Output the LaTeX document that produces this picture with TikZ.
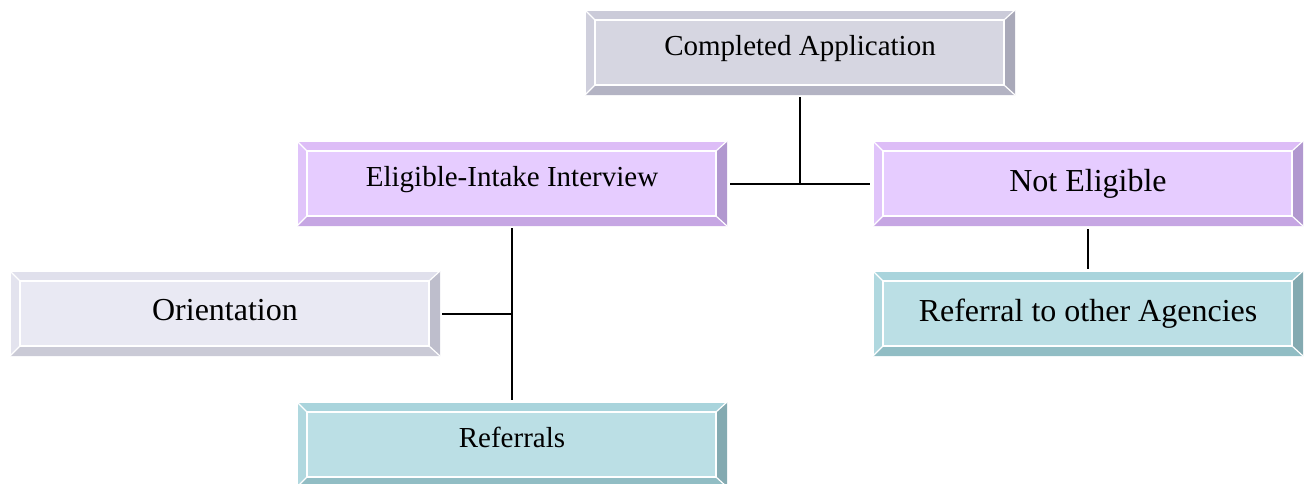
\documentclass[tikz,border=0pt]{standalone}
\usepackage{fontspec}
\setmainfont{Liberation Serif}
\definecolor{gFace}{HTML}{D6D6E1}\definecolor{gTop}{HTML}{CBCBD9}\definecolor{gLeft}{HTML}{CFCFDC}\definecolor{gRight}{HTML}{A9A9B9}\definecolor{gBot}{HTML}{B3B3C3}
\definecolor{pFace}{HTML}{E6CCFF}\definecolor{pTop}{HTML}{DDBDF7}\definecolor{pLeft}{HTML}{E0C4FA}\definecolor{pRight}{HTML}{B198CF}\definecolor{pBot}{HTML}{C6A6E3}
\definecolor{lFace}{HTML}{E9E9F3}\definecolor{lTop}{HTML}{E0E0EC}\definecolor{lLeft}{HTML}{E3E3EE}\definecolor{lRight}{HTML}{BEBECC}\definecolor{lBot}{HTML}{CACAD6}
\definecolor{tFace}{HTML}{BBDFE5}\definecolor{tTop}{HTML}{A9D4DC}\definecolor{tLeft}{HTML}{B0D8DF}\definecolor{tRight}{HTML}{84AAB1}\definecolor{tBot}{HTML}{91BDC4}
\newcommand\bvfam{g}
\tikzset{
  bevelbox/.style={rectangle, minimum width=430pt, minimum height=85pt, inner sep=0pt, fill=\bvfam Face,
    path picture={
      \coordinate (bnw) at (path picture bounding box.north west);
      \coordinate (bne) at (path picture bounding box.north east);
      \coordinate (bsw) at (path picture bounding box.south west);
      \coordinate (bse) at (path picture bounding box.south east);
      \coordinate (inw) at ([xshift=10pt,yshift=-10pt]bnw);
      \coordinate (ine) at ([xshift=-11pt,yshift=-10pt]bne);
      \coordinate (isw) at ([xshift=10pt,yshift=10pt]bsw);
      \coordinate (ise) at ([xshift=-11pt,yshift=10pt]bse);
      \fill[\bvfam Top] (bnw) -- (bne) -- (ine) -- (inw) -- cycle;
      \fill[\bvfam Left] (bnw) -- (inw) -- (isw) -- (bsw) -- cycle;
      \fill[\bvfam Right] (bne) -- (bse) -- (ise) -- (ine) -- cycle;
      \fill[\bvfam Bot] (bsw) -- (isw) -- (ise) -- (bse) -- cycle;
      \draw[white, line width=1.2pt] (bnw) -- (inw) (bne) -- (ine) (bsw) -- (isw) (bse) -- (ise);
      \draw[white, line width=2pt] (inw) rectangle (ise);
      \draw[white, line width=1pt] (bsw) -- (bnw) -- (bne);
    }},
  famG/.style={/utils/exec={\renewcommand\bvfam{g}}},
  famP/.style={/utils/exec={\renewcommand\bvfam{p}}},
  famL/.style={/utils/exec={\renewcommand\bvfam{l}}},
  famT/.style={/utils/exec={\renewcommand\bvfam{t}}},
  lbl/.style={anchor=base, inner sep=0pt},
  small/.style={font=\fontsize{29}{34}\selectfont},
  big/.style={font=\fontsize{32}{38}\selectfont},
  conn/.style={line width=2pt, black},
}
\begin{document}
\begin{tikzpicture}[x=1pt,y=-1pt]
\useasboundingbox (0,0) rectangle (1308,483);
\node[famG, bevelbox] (ca) at (800,52.5) {};
\node[famP, bevelbox] (ei) at (512,183.5) {};
\node[famP, bevelbox] (ne) at (1088,183.5) {};
\node[famL, bevelbox] (or) at (225,313.5) {};
\node[famT, bevelbox] (ra) at (1088,313.5) {};
\node[famT, bevelbox] (re) at (512,444.5) {};
\node[lbl, small] (tca) at (800,55) {Completed Application};
\node[lbl, small] (tei) at (512,186) {Eligible-Intake Interview};
\node[lbl, big] (tne) at (1088,191) {Not Eligible};
\node[lbl, big] (tor) at (225,320) {Orientation};
\node[lbl, big] (tra) at (1088,321) {Referral to other Agencies};
\node[lbl, small] (tre) at (512,447) {Referrals};
\coordinate (j1) at (ca.south |- ei.east);
\coordinate (j2) at (ei.south |- or.east);
\draw[conn] ([yshift=-2pt]ca.south) -- (j1);
\draw[conn] ([xshift=3pt]ei.east) -- ([xshift=-3pt]ne.west);
\draw[conn] ([yshift=-2pt]ei.south) -- ([yshift=2pt]re.north);
\draw[conn] ([xshift=2pt]or.east) -- (j2);
\draw[conn] ([yshift=-3pt]ne.south) -- ([yshift=2pt]ra.north);
\end{tikzpicture}
\end{document}
